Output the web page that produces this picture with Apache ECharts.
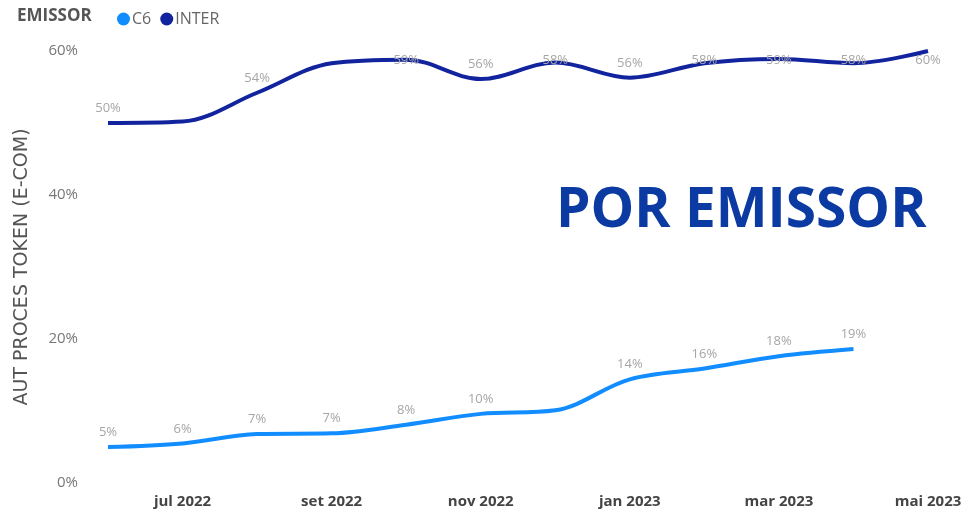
<!DOCTYPE html>
<html>
<head>
<meta charset="utf-8">
<script src="https://cdn.jsdelivr.net/npm/echarts@6/dist/echarts.min.js"></script>
<style>
html,body{margin:0;padding:0;background:#fff;}
#chart{width:973px;height:520px;}
</style>
</head>
<body>
<div id="chart"></div>
<script>
const months = ['jun 2022','jul 2022','ago 2022','set 2022','out 2022','nov 2022','dez 2022','jan 2023','fev 2023','mar 2023','abr 2023','mai 2023'];
const c6Values = [5.0, 5.5, 6.8, 6.9, 8.1, 9.6, 10.1, 14.4, 15.9, 17.6, 18.6, null];
const interValues = [50.0, 50.2, 54.2, 58.3, 58.8, 56.1, 58.4, 56.3, 58.3, 58.9, 58.3, 60.0];
const c6HiddenLabels = [6];
const interHiddenLabels = [1, 3];
const yTicks = [0, 20, 40, 60];

const chart = echarts.init(document.getElementById('chart'));
const fontFam = '"Open Sans", "DejaVu Sans", sans-serif';

function buildData(vals, hidden) {
  return vals.map((v, i) => hidden.includes(i) ? {value: v, label: {show: false}} : v);
}

const labelStyle = {
  show: true,
  position: 'top',
  distance: 8,
  color: '#a6a6a6',
  fontSize: 13,
  fontFamily: fontFam,
  formatter: p => Math.round(p.value) + '%'
};

chart.setOption({
  animation: false,
  color: ['#118DFF', '#12239E'],
  legend: {
    left: 112,
    top: 6,
    icon: 'circle',
    itemWidth: 13,
    itemHeight: 13,
    itemGap: 9,
    textStyle: {color: '#666', fontSize: 16, fontFamily: fontFam, padding: [0, 0, 0, -3]},
    data: ['C6', 'INTER']
  },
  graphic: [
    {type: 'text', left: 17, top: 8, style: {text: 'EMISSOR', font: 'bold 17px ' + fontFam, fill: '#555'}},
    {type: 'text', left: 556, top: 184, style: {text: 'POR EMISSOR', font: 'bold 55px ' + fontFam, fill: '#0B3AA2'}}
  ],
  grid: {left: 108, right: 45, top: 51, bottom: 37, containLabel: false},
  xAxis: {
    type: 'category',
    data: months,
    boundaryGap: false,
    axisLine: {show: false},
    axisTick: {show: false},
    splitLine: {show: false},
    axisLabel: {
      interval: (i) => i % 2 === 1,
      color: '#444',
      fontSize: 15,
      fontWeight: 'bold',
      fontFamily: fontFam,
      margin: 11
    }
  },
  yAxis: {
    type: 'value',
    min: yTicks[0],
    max: yTicks[yTicks.length - 1],
    interval: 20,
    name: 'AUT PROCES TOKEN (E-COM)',
    nameLocation: 'middle',
    nameGap: 76,
    nameTextStyle: {color: '#555', fontSize: 19, fontFamily: '"DejaVu Sans", sans-serif'},
    axisLine: {show: false},
    axisTick: {show: false},
    splitLine: {show: false},
    axisLabel: {
      color: '#777',
      fontSize: 15,
      fontFamily: fontFam,
      margin: 30,
      formatter: v => v + '%'
    }
  },
  series: [
    {
      name: 'C6',
      type: 'line',
      smooth: 0.35,
      symbol: 'circle',
      symbolSize: 0.1,
      showSymbol: true,
      lineStyle: {width: 4, color: '#118DFF'},
      itemStyle: {color: '#118DFF'},
      label: labelStyle,
      data: buildData(c6Values, c6HiddenLabels)
    },
    {
      name: 'INTER',
      type: 'line',
      smooth: 0.35,
      symbol: 'circle',
      symbolSize: 0.1,
      showSymbol: true,
      lineStyle: {width: 4, color: '#12239E'},
      itemStyle: {color: '#12239E'},
      label: labelStyle,
      labelLayout: function (p) {
        const r = p.labelRect;
        const cy = r.y + r.height / 2;
        return {x: r.x + r.width / 2, y: Math.max(cy, 60), align: 'center', verticalAlign: 'middle'};
      },
      data: buildData(interValues, interHiddenLabels)
    }
  ]
});
</script>
</body>
</html>
